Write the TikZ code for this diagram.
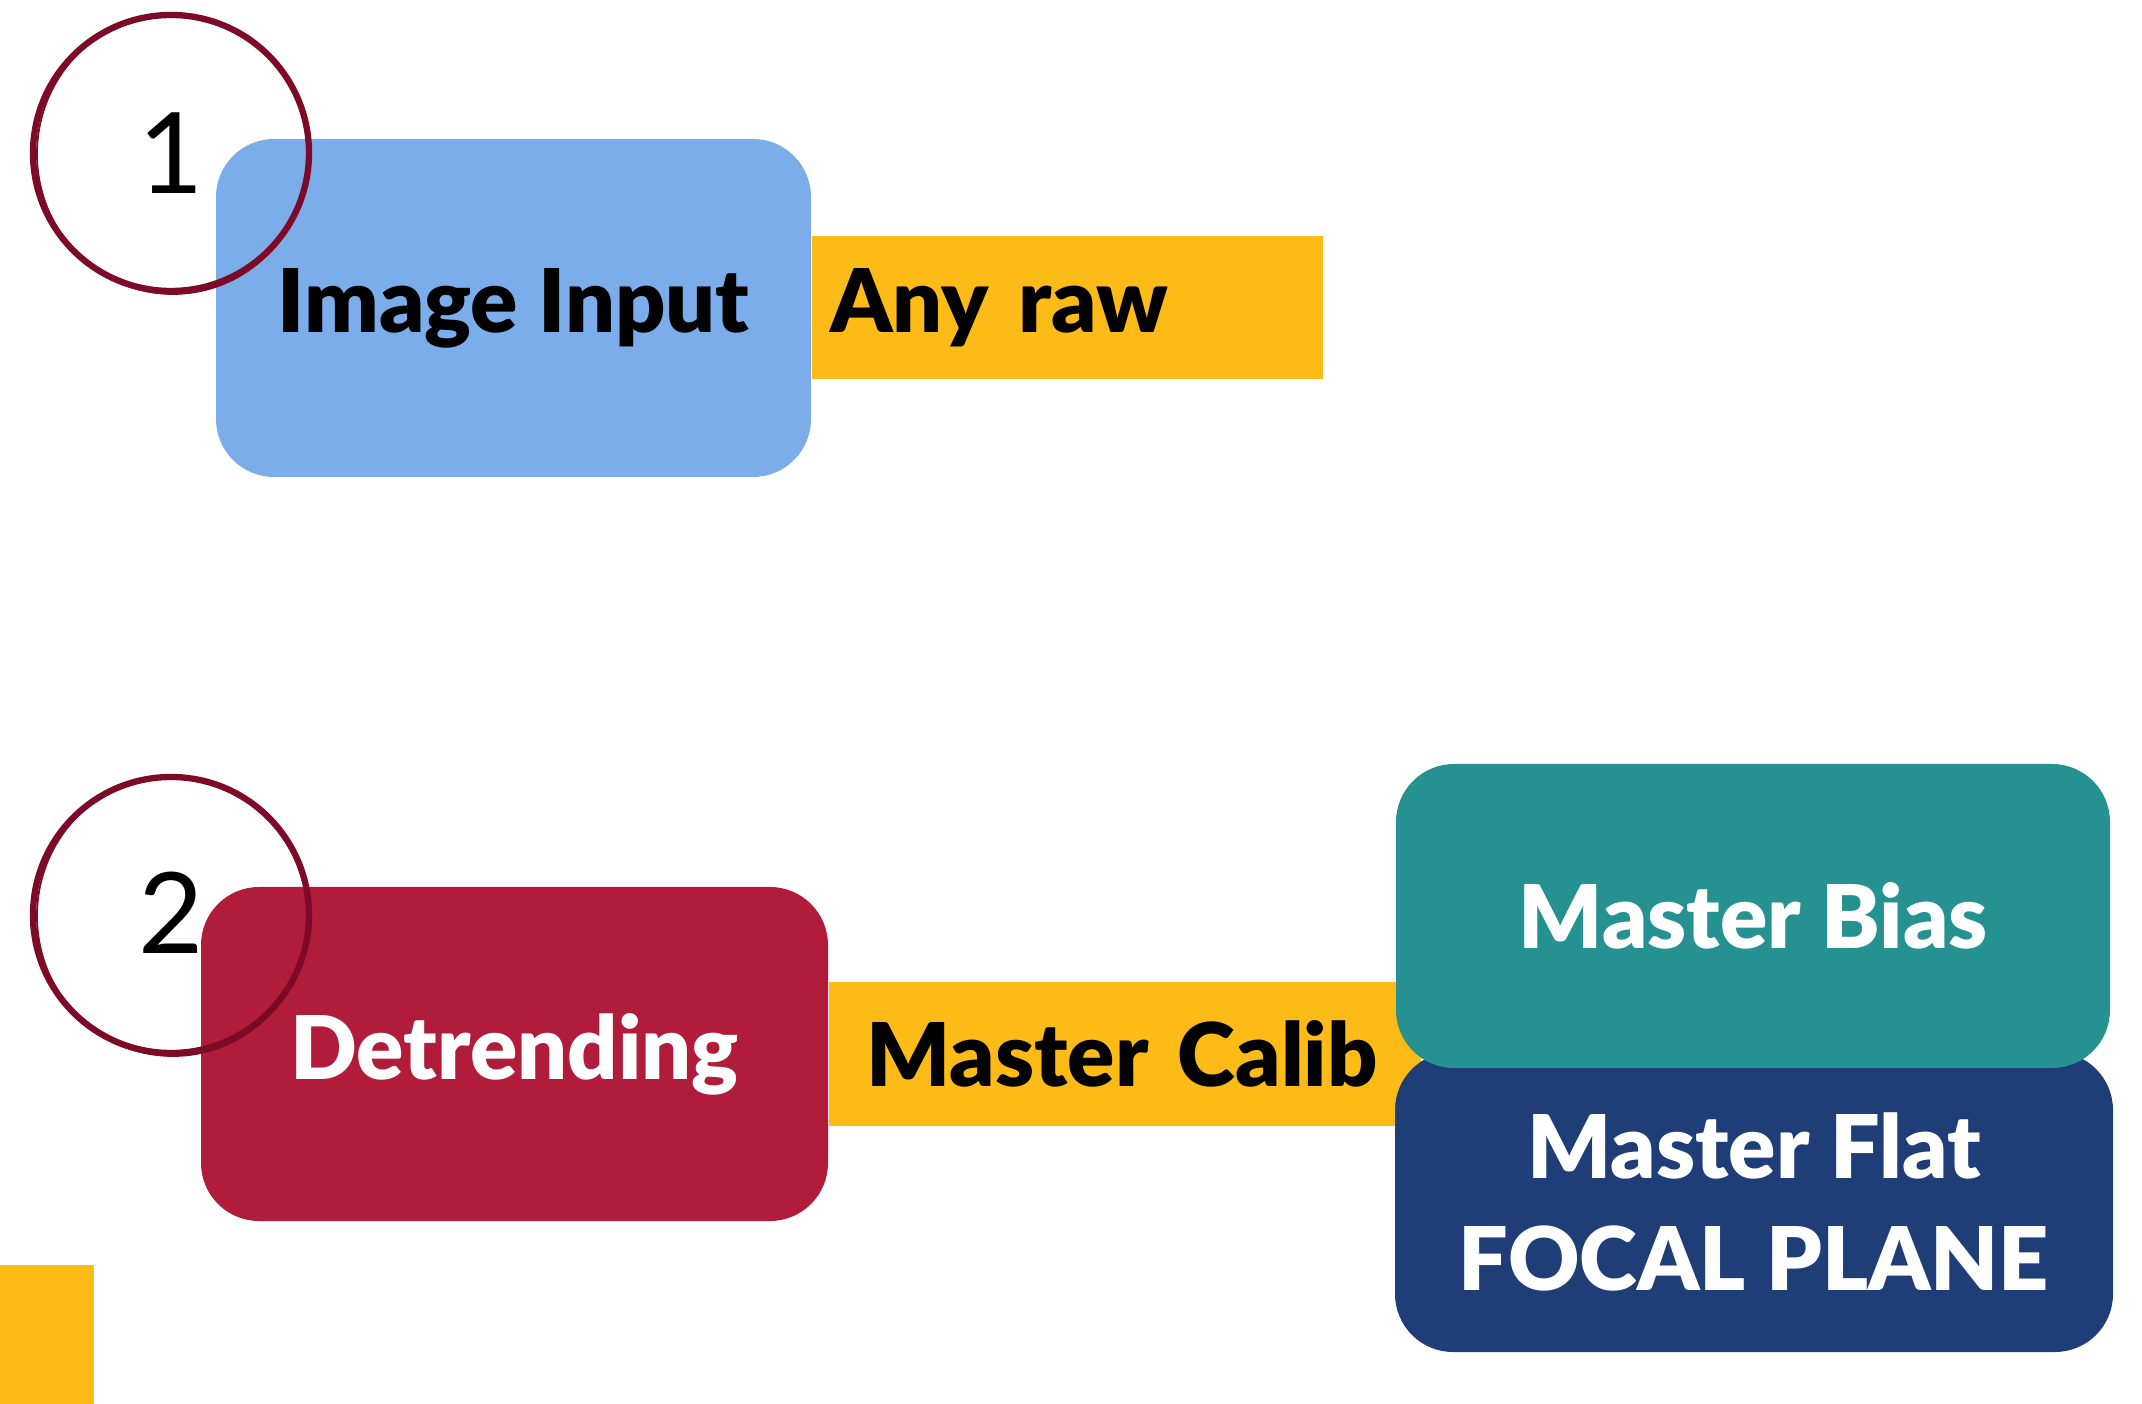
\documentclass[tikz,border=0pt]{standalone}
\usepackage{fontspec}
\setmainfont{Lato}
\newfontfamily\heavy{Lato Black}
\usetikzlibrary{positioning}
\definecolor{skyblue}{RGB}{123,173,235}
\definecolor{amber}{RGB}{253,187,24}
\definecolor{crimson}{RGB}{177,28,59}
\definecolor{seagreen}{RGB}{37,145,144}
\definecolor{navyblue}{RGB}{31,61,118}
\definecolor{wine}{RGB}{125,10,38}

\tikzset{
  box/.style={rounded corners=0.58cm, inner sep=0pt, align=center,
    font=\heavy\fontsize{25}{32}\selectfont},
  tagbar/.style={fill=amber, minimum height=1.43cm, inner ysep=0pt,
    align=left, font=\heavy\fontsize{25}{30}\selectfont},
  stepnum/.style={font=\fontsize{32}{36}\selectfont, inner sep=0pt},
  ring/.style={wine, line width=1.8pt}
}

\begin{document}
\begin{tikzpicture}
\useasboundingbox (0,0) rectangle (21.42,-14.04);

% numbers go under the boxes
\node[stepnum] (num1) at (1.71,-1.53) {1};
\node[stepnum] (num2) at (1.71,-9.13) {2};

% step 1
\node[box, fill=skyblue, minimum width=5.95cm, minimum height=3.38cm]
  (input) at (5.135,-3.08) {Image Input};
\node[tagbar, right=0pt of input, text width=4.75cm, inner xsep=0.18cm]
  (raw) {Any raw};

% step 2
\node[box, fill=crimson, text=white, minimum width=6.27cm, minimum height=3.34cm]
  (detrend) at (5.145,-10.54) {Detrending};
\node[tagbar, right=0pt of detrend, text width=5.18cm, inner xsep=0.37cm]
  (calib) {Master Calib};
\node[box, fill=navyblue, text=white, minimum width=7.18cm, minimum height=3.00cm]
  (flat) at (17.54,-12.02) {Master Flat\\FOCAL PLANE};
\node[box, fill=seagreen, text=white, minimum width=7.14cm, minimum height=3.04cm]
  (bias) at (17.53,-9.16) {Master Bias};

% hand drawn rings on top
\begin{scope}[ring]
\draw (num1) circle[radius=1.38cm];
\draw[line width=0.5pt] ([shift={(0.02,-0.01)}]num1) circle[x radius=1.36cm, y radius=1.40cm];
\draw (num2) ++(0,-0.02) circle[radius=1.38cm];
\draw[line width=0.5pt] ([shift={(0.02,-0.03)}]num2) circle[x radius=1.36cm, y radius=1.40cm];
\end{scope}

\fill[amber] (0,-12.65) rectangle (0.94,-14.04);
\end{tikzpicture}
\end{document}
